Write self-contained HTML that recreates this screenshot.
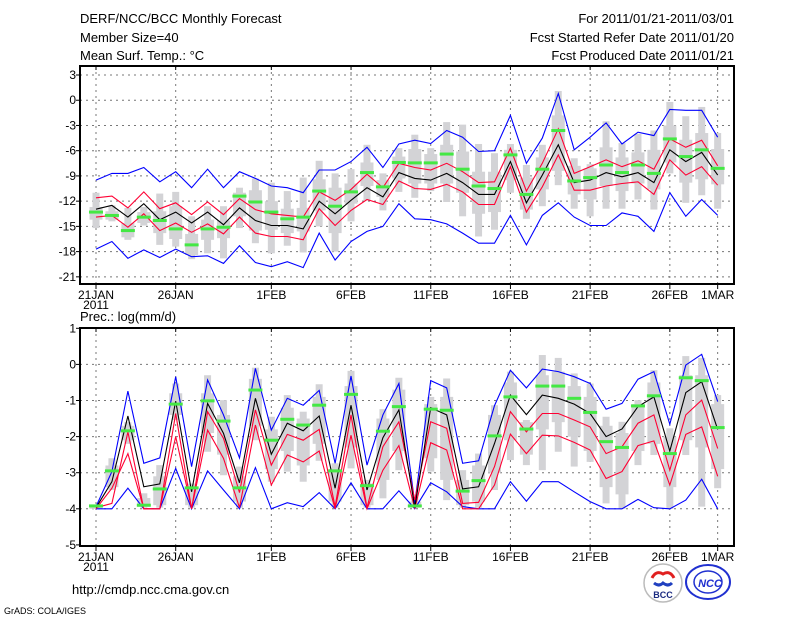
<!DOCTYPE html>
<html><head><meta charset="utf-8">
<style>
body{margin:0;background:#fff;}
svg{display:block;font-family:"Liberation Sans",sans-serif;}
</style></head>
<body>
<svg id="chart" width="800" height="618" viewBox="0 0 800 618" xmlns="http://www.w3.org/2000/svg">
<rect width="800" height="618" fill="#fff"/>
<g font-size="13" fill="#000">
<text x="80" y="23">DERF/NCC/BCC Monthly Forecast</text>
<text x="80" y="42">Member Size=40</text>
<text x="80" y="60">Mean Surf. Temp.: °C</text>
<text x="734" y="23" text-anchor="end">For 2011/01/21-2011/03/01</text>
<text x="734" y="42" text-anchor="end">Fcst Started Refer Date 2011/01/20</text>
<text x="734" y="60" text-anchor="end">Fcst Produced Date 2011/01/21</text>
<text x="80" y="321">Prec.: log(mm/d)</text>
<text x="72" y="594">http://cmdp.ncc.cma.gov.cn</text>
<text x="4" y="614" font-size="9">GrADS: COLA/IGES</text>
</g>
<g>
<circle cx="663" cy="583" r="19" fill="#fff" stroke="#bbb" stroke-width="1.5"/>
<path d="M652 578 q4 -8 11 -4 q7 -4 11 4" fill="none" stroke="#e02020" stroke-width="3"/>
<path d="M654 583 q5 4 9 0 q5 4 9 0" fill="none" stroke="#2040c0" stroke-width="3"/>
<text x="663" y="598" font-size="9" font-weight="bold" text-anchor="middle" fill="#1a2a80">BCC</text>
</g>
<g>
<ellipse cx="708" cy="582" rx="22" ry="17" fill="#fff" stroke="#2030d0" stroke-width="2"/>
<ellipse cx="708" cy="582" rx="14" ry="11" fill="none" stroke="#2030d0" stroke-width="1.5"/>
<text x="710" y="587" font-size="11" font-weight="bold" font-style="italic" text-anchor="middle" fill="#2030d0">NCC</text>
</g>
<g id="plots"></g>
</svg>
<script>
// ---- Data: day index 0 = 21JAN ... 39 = 1MAR
const xTickLabels = ["21JAN","26JAN","1FEB","6FEB","11FEB","16FEB","21FEB","26FEB","1MAR"];
const xTickDays = [0,5,11,16,21,26,31,36,39];
const tTicks = [3,0,-3,-6,-9,-12,-15,-18,-21];
const pTicks = [1,0,-1,-2,-3,-4,-5];

const tMean = [-12.96,-12.5,-13.9,-12.3,-14.2,-13.3,-14.6,-13.3,-14.8,-12.8,-14.3,-14.9,-14.9,-15.3,-12,-13.5,-11.9,-10.4,-11.5,-8.6,-9.3,-9.5,-8.7,-9.8,-11.2,-11.2,-7.3,-12.2,-8.9,-5.3,-9.8,-9.5,-8.6,-9.1,-8.6,-9.8,-5.9,-7.3,-6.2,-8.9];
const tRedHi = [-11.6,-11.4,-12.8,-10.9,-12.9,-12.2,-13.6,-12.1,-13.6,-11.7,-13,-13.5,-13.7,-13.9,-10.9,-11.9,-10.6,-8.8,-10.4,-7.5,-8,-8.3,-7.5,-8.5,-9.8,-9.7,-5.7,-10.8,-7.5,-3.4,-8.7,-7.9,-7.1,-7.9,-7.2,-8.2,-4.6,-5.6,-4.75,-7.8];
const tRedLo = [-13.9,-13.7,-15.1,-13.5,-15.5,-14.6,-15.7,-14.7,-15.9,-13.9,-15.8,-16.2,-16.2,-16.6,-12.9,-14.9,-13.1,-11.8,-12.4,-9.6,-10.5,-10.6,-10,-10.9,-12.4,-12.4,-7.9,-13.3,-10.3,-6.5,-10.7,-10.7,-10.2,-9.9,-9.7,-11.2,-7.1,-8.9,-7.9,-10.1];
const tMax = [-9.5,-8.7,-8.7,-8,-9.7,-8.5,-10.4,-8.2,-10.4,-8.5,-9.3,-10.2,-10.4,-11,-8.3,-8.3,-7.3,-5.6,-8,-5.2,-4.75,-5.15,-3.6,-4.4,-6.1,-6,-1.8,-7.5,-4.5,0.8,-5.9,-4.4,-2.7,-5.2,-3.8,-4.2,-1.1,-1.2,-1.2,-4.4];
const tMin = [-17.7,-16.8,-18.8,-17.8,-18.7,-17.7,-18.6,-18.5,-19.4,-17.3,-19.3,-19.8,-19.2,-19.9,-15.8,-19,-16.8,-15.6,-15,-12.3,-14.1,-14.2,-14.7,-15.8,-17,-17,-13.7,-17.2,-13.7,-12.2,-13.9,-14.9,-14.9,-13.4,-13.8,-15.6,-11,-13.8,-11.8,-13.7];
const tObs = [-13.3,-13.7,-15.5,-13.9,-14.3,-15.3,-17.2,-15.3,-15.1,-11.4,-12.1,-13.3,-14.1,-13.9,-10.8,-12.6,-10.9,-8.6,-10.3,-7.4,-7.45,-7.45,-6.4,-8.2,-10.2,-10.5,-6.5,-11.2,-8.2,-3.6,-9.6,-9.2,-7.7,-8.6,-7.7,-8.7,-4.6,-6.7,-5.9,-8.1];
const tP90 = [-11,-12.5,-12.8,-12.7,-11.1,-10.9,-13.8,-12.6,-12.6,-10.4,-9.3,-9.8,-10.8,-9.2,-7.2,-8.7,-8.2,-5.3,-8.7,-5.7,-4.1,-5.7,-2.6,-2.9,-5.2,-6.3,-5.2,-7.7,-5.3,1.1,-6.9,-7.6,-2.5,-5.1,-4,-3.6,-0.2,-1.9,-0.8,-3.9];
const tP10 = [-15.2,-14.4,-16.6,-14.9,-17.2,-17.4,-18.9,-18.2,-18.8,-15.2,-17,-18.2,-17.3,-18.1,-15,-18,-14.4,-11.9,-13.1,-10.9,-11.6,-10.8,-12.1,-13.8,-16.2,-15.4,-11,-14.1,-12.6,-10.1,-12.9,-13.8,-12.9,-12.9,-11.8,-13,-8.7,-12.2,-11.3,-12.9];
const tP75 = [-12.7,-13.2,-14.6,-13.3,-13.2,-12.6,-15.9,-14.2,-14.3,-11,-10.7,-12,-12.9,-12.8,-9.4,-10.4,-9.9,-7.4,-9.5,-6.7,-5.8,-6.4,-5.3,-6.1,-8.5,-8.5,-5.9,-9.2,-6.8,-1.8,-7.8,-8.1,-5.6,-6.8,-6.2,-5.9,-3,-4.7,-3.9,-5.8];
const tP25 = [-14.2,-14.2,-16.3,-14.6,-15.8,-16.5,-18.4,-16.6,-16.4,-13.8,-15.5,-15.4,-15.8,-15.6,-13.1,-15.8,-12.3,-10.2,-11.5,-9.3,-9.9,-9.9,-9.9,-11,-13.5,-13.3,-9.5,-13,-10.6,-8.4,-11.2,-11.8,-10.2,-10.8,-9.9,-10.6,-7.4,-9.8,-9.4,-10];

const pMean = [-3.97,-3.25,-1.43,-3.39,-3.31,-1.02,-3.53,-1.08,-1.91,-3.28,-0.94,-2.49,-1.63,-1.84,-1.43,-3.43,-1.13,-3.48,-2.03,-1.26,-3.97,-1.2,-1.4,-3.45,-3.39,-2.19,-0.85,-1.39,-0.85,-0.94,-1.1,-1.36,-2,-1.79,-1.17,-0.9,-2.4,-0.78,-0.48,-1.8];
const pRedHi = [-3.97,-3.85,-1.87,-4,-4,-1.36,-4,-1.31,-2.05,-3.55,-1.26,-2.79,-1.94,-2.1,-1.8,-3.94,-1.4,-3.97,-2.28,-1.59,-3.76,-1.59,-1.77,-3.85,-3.82,-2.83,-1.31,-1.87,-1.36,-1.36,-1.54,-1.73,-2.47,-2.28,-1.63,-1.4,-2.93,-1.4,-0.99,-2.33];
const pRedLo = [-4,-3.43,-2.47,-4,-4,-2,-4,-1.82,-2.6,-3.97,-1.68,-3.34,-2.51,-2.7,-2.4,-4,-1.96,-4,-2.93,-2.25,-4,-2.17,-2.37,-4,-4,-3.34,-1.93,-2.47,-1.96,-1.98,-2.16,-2.37,-3.16,-2.97,-2.25,-2.12,-3.34,-1.94,-1.73,-3.1];
const pMax = [-3.94,-2.97,-0.74,-2.74,-2.59,-0.34,-2.83,-0.43,-1.4,-2.59,-0.11,-1.82,-0.94,-1.13,-0.72,-2.74,-0.32,-2.79,-1.4,-0.53,-3.85,-0.45,-0.65,-2.74,-2.67,-1.14,-0.16,-0.65,-0.13,-0.2,-0.34,-0.53,-1.24,-1.08,-0.41,-0.2,-1.66,-0.02,0.28,-1.03];
const pMin = [-4,-4,-3.43,-4,-4,-2.88,-4,-2.95,-3.48,-4,-2.86,-4,-3.83,-3.94,-3.55,-4,-3.28,-4,-4,-3.5,-4,-3.28,-3.53,-3.94,-4,-4,-3.25,-3.79,-3.25,-3.25,-3.53,-3.8,-4,-4,-3.74,-3.97,-4,-3.76,-3.18,-4];
const pObs = [-3.92,-2.95,-1.84,-3.9,-3.45,-1.1,-3.42,-1.01,-1.57,-3.42,-0.71,-2.1,-1.52,-1.68,-1.13,-2.95,-0.83,-3.36,-1.85,-1.17,-3.92,-1.24,-1.27,-3.51,-3.22,-1.98,-0.9,-1.79,-0.6,-0.6,-0.94,-1.33,-2.14,-2.3,-1.15,-0.87,-2.47,-0.37,-0.45,-1.75];
const pP90 = [-3.9,-2.6,-1.6,-3.57,-2.79,-0.53,-3.3,-0.3,-0.99,-2.83,-0.09,-1.45,-0.85,-1.31,-0.55,-2.74,-0.18,-3.2,-1.24,-0.37,-3.67,-0.9,-0.39,-2.93,-2.47,-1.13,-0.2,-1.54,0.26,0.18,-0.25,-0.53,-1.45,-1.59,-0.99,-0.16,-1.77,0.23,0.18,-0.85];
const pP10 = [-4,-3.48,-2.2,-3.97,-3.97,-1.54,-3.97,-2.42,-3.07,-3.97,-2.1,-3.25,-2.97,-3.25,-2.67,-3.97,-2.88,-3.97,-3.71,-2.93,-3.97,-2.97,-3.76,-3.97,-3.97,-3.48,-2.65,-2.79,-2.93,-2.42,-2.83,-2.7,-3.85,-4,-2.79,-2.51,-4,-2.51,-3.94,-3.43];
const pP75 = [-3.9,-2.8,-1.7,-3.7,-3.1,-0.8,-3.4,-0.8,-1.4,-3.1,-0.4,-1.8,-1.2,-1.5,-0.9,-2.9,-0.6,-3.3,-1.5,-0.7,-3.8,-1.1,-0.9,-3.2,-2.8,-1.4,-0.5,-1.6,-0.3,-0.2,-0.6,-0.9,-1.7,-1.9,-1.1,-0.5,-2,-0.3,-0.3,-1.1];
const pP25 = [-4,-3.4,-2.1,-3.95,-3.9,-1.4,-3.9,-1.9,-2.5,-3.8,-1.7,-2.9,-2.4,-2.8,-2.2,-3.8,-2.3,-3.9,-3.2,-2.4,-3.97,-2.6,-3.2,-3.9,-3.8,-3,-2.1,-2.5,-1.8,-1.6,-2,-2.4,-3.4,-3.6,-2.4,-2.2,-3.4,-2.1,-2.3,-2.9];

const NS = "http://www.w3.org/2000/svg";
const root = document.getElementById('plots');
function el(tag, attrs, parent){
  const e = document.createElementNS(NS, tag);
  for (const k in attrs) e.setAttribute(k, attrs[k]);
  (parent||root).appendChild(e);
  return e;
}
const x0 = 80, x1 = 734, dayX0 = 96, dayW = 15.94;
function xDay(d){ return dayX0 + d*dayW; }

function drawPanel(cfg){
  const g = el('g', {});
  
  
  const y = v => cfg.yTop + (cfg.vTop - v) * cfg.pxPer;
  cfg.ticks.forEach(v => {
    const yy = y(v);
    if (yy > cfg.top+2 && yy < cfg.bot-2) {
      const gl = el('line', {x1:x0, x2:x1, y1:yy, y2:yy, stroke:'#777', 'stroke-width':1, 'stroke-dasharray':'2,4'}, g);
      
      
    }
    const t = el('text', {x:76, y:yy+4, 'font-size':12, 'text-anchor':'end'}, g);
    
    
    t.textContent = String(v);
    el('line', {x1:x0-4, x2:x0, y1:yy, y2:yy, stroke:'#000'}, g);
  });
  xTickDays.forEach((d, i) => {
    const xx = xDay(d);
    const gl = el('line', {x1:xx, x2:xx, y1:cfg.top, y2:cfg.bot, stroke:'#777', 'stroke-width':1, 'stroke-dasharray':'2,4'}, g);
    
    
    el('line', {x1:xx, x2:xx, y1:cfg.bot, y2:cfg.bot+5, stroke:'#000'}, g);
    el('line', {x1:xx, x2:xx, y1:cfg.top, y2:cfg.top+4, stroke:'#000'}, g);
    const t = el('text', {x:xx, y:cfg.bot+15, 'font-size':12, 'text-anchor':'middle'}, g);
    
    
    t.textContent = xTickLabels[i];
  });
  const yr = el('text', {x:xDay(0), y:cfg.bot+25, 'font-size':12, 'text-anchor':'middle'}, g);
  
  
  yr.textContent = '2011';
  const d = cfg.data;
  d.p90.forEach((v, i) => {
    const xx = xDay(i);
    const b1 = el('rect', {x:xx-3.5, y:y(d.p90[i]), width:7, height:Math.max(1, y(d.p10[i])-y(d.p90[i])), fill:'#d3d3d6'}, g);
    
    
    const b2 = el('rect', {x:xx-6.5, y:y(d.p75[i]), width:13, height:Math.max(1, y(d.p25[i])-y(d.p75[i])), fill:'#d3d3d6'}, g);
    
    
  });
  const series = [[d.max,'#0000ff','max-line'],[d.min,'#0000ff','min-line'],[d.hi,'#ff0033','upper-spread-line'],[d.lo,'#ff0033','lower-spread-line'],[d.mean,'#000','ensemble-mean-line']];
  series.forEach(s => {
    const pts = s[0].map((v, i) => xDay(i).toFixed(1) + ',' + y(v).toFixed(1)).join(' ');
    const pl = el('polyline', {points:pts, fill:'none', stroke:s[1], 'stroke-width':1.1}, g);
    
    
  });
  d.obs.forEach((v, i) => {
    const m = el('rect', {x:xDay(i)-7, y:y(v)-1.5, width:14, height:3, fill:'#44e844'}, g);
    
    
  });
  const fr = el('rect', {x:x0, y:cfg.top, width:x1-x0, height:cfg.bot-cfg.top, fill:'none', stroke:'#000', 'stroke-width':2}, g);
  
  
}

drawPanel({name:'temperature-panel', top:66, bot:284, yTop:75, vTop:3, pxPer:8.41, ticks:tTicks,
  data:{mean:tMean, hi:tRedHi, lo:tRedLo, max:tMax, min:tMin, obs:tObs, p90:tP90, p10:tP10, p75:tP75, p25:tP25}});
drawPanel({name:'precipitation-panel', top:328, bot:546, yTop:328.3, vTop:1, pxPer:36.1, ticks:pTicks,
  data:{mean:pMean, hi:pRedHi, lo:pRedLo, max:pMax, min:pMin, obs:pObs, p90:pP90, p10:pP10, p75:pP75, p25:pP25}});
</script>
</body></html>
